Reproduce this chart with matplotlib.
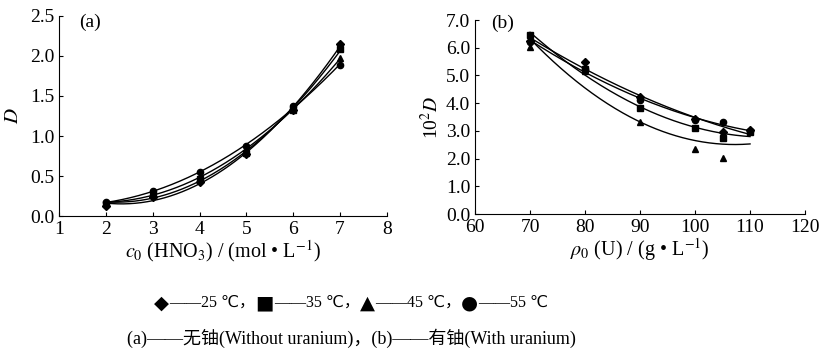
import numpy as np
import matplotlib
matplotlib.use("Agg")
import matplotlib.pyplot as plt
from matplotlib.offsetbox import TextArea, HPacker, AnchoredOffsetbox

plt.rcParams['font.family'] = ['Liberation Serif', 'DejaVu Sans', 'Noto Sans CJK SC']
plt.rcParams['mathtext.fontset'] = 'stix'

# (a) without uranium
c_hno3 = [2, 3, 4, 5, 6, 7]
a_25 = [0.13, 0.24, 0.42, 0.77, 1.33, 2.15]
a_35 = [0.15, 0.26, 0.46, 0.79, 1.32, 2.09]
a_45 = [0.16, 0.28, 0.49, 0.82, 1.34, 1.97]
a_55 = [0.17, 0.31, 0.55, 0.88, 1.37, 1.89]

# (b) with uranium
rho_u = [70, 80, 90, 100, 105, 110]
b_25 = [6.25, 5.47, 4.23, 3.42, 2.97, 3.05]
b_35 = [6.46, 5.22, 3.81, 3.11, 2.73, 2.95]
b_45 = [6.01, 5.15, 3.33, 2.33, 2.03, 3.05]
b_55 = [6.22, 5.25, 4.11, 3.38, 3.31, 3.00]

legend_symbols = ['◆', '■', '▲', '●']
legend_labels = ['25 ℃', '35 ℃', '45 ℃', '55 ℃']

markers = ['D', 's', '^', 'o']
msizes = [4, 4.5, 5, 4.5]

fig = plt.figure(figsize=(8.24, 3.55), dpi=100)
axa = fig.add_axes([0.0716, 0.3915, 0.398, 0.5635])
axb = fig.add_axes([0.5765, 0.397, 0.4005, 0.5465])

def draw(ax, x, series):
    x = np.array(x, float)
    xs = np.linspace(x.min(), x.max(), 200)
    for ys, m, ms in zip(series, markers, msizes):
        ys = np.array(ys, float)
        p = np.polyfit(x, ys, 2)
        ax.plot(xs, np.polyval(p, xs), color='black', lw=1.0)
        ax.plot(x, ys, linestyle='none', marker=m, ms=ms, color='black')
    for s in ['top', 'right']:
        ax.spines[s].set_visible(False)
    ax.tick_params(direction='in', length=3, labelsize=14, width=0.8)

draw(axa, c_hno3, [a_25, a_35, a_45, a_55])
axa.set_xlim(1, 8)
axa.set_ylim(0, 2.5)
axa.set_xticks(range(1, 9))
axa.set_yticks(np.arange(0, 2.51, 0.5))
axa.yaxis.set_major_formatter(matplotlib.ticker.FormatStrFormatter('%.1f'))
axa.set_xlabel(r"$c_0$ (HNO$_3$) / (mol • L$^{-1}$)", fontsize=14.5, labelpad=0)
axa.set_ylabel(r"$D$", fontsize=15, labelpad=5)
axa.text(0.06, 0.97, "(a)", transform=axa.transAxes, fontsize=14, va='center')

draw(axb, rho_u, [b_25, b_35, b_45, b_55])
axb.set_xlim(60, 120)
axb.set_ylim(0, 7)
axb.set_xticks(range(60, 121, 10))
axb.set_yticks(np.arange(0, 7.01, 1.0))
axb.yaxis.set_major_formatter(matplotlib.ticker.FormatStrFormatter('%.1f'))
axb.set_xlabel(r"$\rho_0$ (U) / (g • L$^{-1}$)", fontsize=14.5, labelpad=0)
axb.set_ylabel(r"10$^2$$D$", fontsize=14, labelpad=3)
axb.text(0.05, 0.985, "(b)", transform=axb.transAxes, fontsize=14, va='center')

parts = []
for i, (sym, lab) in enumerate(zip(legend_symbols, legend_labels)):
    parts.append(TextArea(sym, textprops=dict(fontsize=14, family='DejaVu Sans')))
    txt = "——" + lab + ("，" if i < len(legend_labels) - 1 else "")
    parts.append(TextArea(txt, textprops=dict(fontsize=11.5)))
box = HPacker(children=parts, align='center', pad=0, sep=0)
anchored = AnchoredOffsetbox(loc='center', child=box, frameon=False,
                             bbox_to_anchor=(0.426, 0.146),
                             bbox_transform=fig.transFigure, pad=0, borderpad=0)
fig.add_artist(anchored)

fig.text(0.426, 0.048, "(a)——无铀(Without uranium)，(b)——有铀(With uranium)",
         ha='center', va='center', fontsize=13)

fig.savefig("out.png", dpi=100)
